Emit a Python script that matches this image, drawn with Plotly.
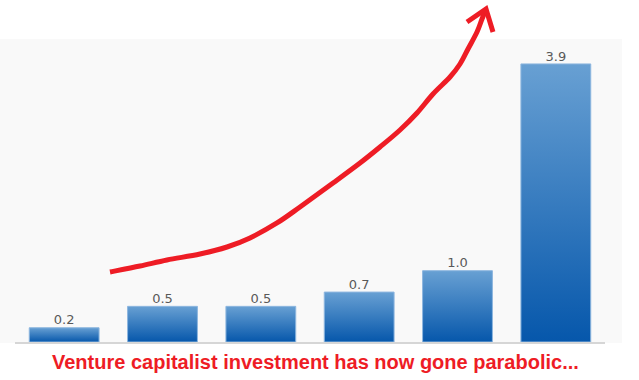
import plotly.graph_objects as go

# Data
values = [0.2, 0.5, 0.5, 0.7, 1.0, 3.9]
labels = ["0.2", "0.5", "0.5", "0.7", "1.0", "3.9"]
title_text = "Venture capitalist investment has now gone parabolic..."

# Hand-drawn arrow path (pixel coordinates of the annotation, not data)
arrow_px = [(110, 272), (140, 266), (167, 260), (200, 254), (227, 247), (250, 238),
            (277, 223), (300, 207), (333, 183), (360, 163), (380, 147), (400, 130),
            (417, 113), (433, 94), (450, 77), (460, 64), (468, 49), (477, 32),
            (482, 19), (486, 9)]
head_left = (467, 22)
head_right = (493, 32)

W, H = 639, 380
BAR_W = 0.71

fig = go.Figure()

for i, v in enumerate(values):
    x0, x1 = i - BAR_W / 2, i + BAR_W / 2
    fig.add_trace(go.Scatter(
        x=[x0, x1, x1, x0, x0], y=[0, 0, v, v, 0],
        mode="lines", fill="toself",
        line=dict(color="#8db6df", width=1),
        fillgradient=dict(type="vertical",
                          colorscale=[[0, "#0657ab"], [1, "#68a0d3"]]),
        hoverinfo="skip", showlegend=False,
    ))

fig.add_trace(go.Scatter(
    x=list(range(len(values))), y=values, mode="text", text=labels,
    textposition="top center",
    textfont=dict(family="DejaVu Sans", size=13, color="#595959"),
    showlegend=False, hoverinfo="skip",
))


def px(p):
    return p[0] / W, 1 - p[1] / H


def smooth_path(pts):
    # Catmull-Rom to cubic Bezier in paper coords
    P = [px(p) for p in pts]
    d = f"M {P[0][0]:.5f},{P[0][1]:.5f}"
    for k in range(len(P) - 1):
        p0 = P[k - 1] if k > 0 else P[k]
        p1, p2 = P[k], P[k + 1]
        p3 = P[k + 2] if k + 2 < len(P) else P[k + 1]
        c1 = (p1[0] + (p2[0] - p0[0]) / 6, p1[1] + (p2[1] - p0[1]) / 6)
        c2 = (p2[0] - (p3[0] - p1[0]) / 6, p2[1] - (p3[1] - p1[1]) / 6)
        d += f" C {c1[0]:.5f},{c1[1]:.5f} {c2[0]:.5f},{c2[1]:.5f} {p2[0]:.5f},{p2[1]:.5f}"
    return d


path = smooth_path(arrow_px)
tip = arrow_px[-1]
head = (f"M {px(head_left)[0]:.5f},{px(head_left)[1]:.5f} L {px(tip)[0]:.5f},{px(tip)[1]:.5f}"
        f" L {px(head_right)[0]:.5f},{px(head_right)[1]:.5f}")

fig.update_layout(
    width=W, height=H,
    margin=dict(l=0, r=0, t=0, b=0),
    paper_bgcolor="white", plot_bgcolor="rgba(0,0,0,0)",
    xaxis=dict(domain=[15 / W, 605 / W], range=[-0.5, len(values) - 0.5],
               showgrid=False, zeroline=False, showticklabels=False, ticks="",
               showline=True, linecolor="#d6d6d6", linewidth=2, fixedrange=True),
    yaxis=dict(domain=[(H - 342) / H, (H - 39) / H], range=[0, 303 / 71.3],
               showgrid=False, zeroline=False, showticklabels=False, ticks="",
               showline=False, fixedrange=True),
    shapes=[
        dict(type="rect", xref="paper", yref="paper", x0=0, x1=622 / W,
             y0=(H - 343) / H, y1=(H - 39) / H, fillcolor="#f9f9f9",
             line=dict(width=0), layer="below"),
        dict(type="path", xref="paper", yref="paper", path=path,
             line=dict(color="#ee1c25", width=5), layer="above"),
        dict(type="path", xref="paper", yref="paper", path=head,
             line=dict(color="#ee1c25", width=5), layer="above"),
    ],
    annotations=[
        dict(text=f"<b>{title_text}</b>", xref="paper", yref="paper",
             x=315 / W, y=1 - 362 / H, xanchor="center", yanchor="middle",
             showarrow=False,
             font=dict(family="Liberation Sans, Arial", size=20, color="#ee1c25")),
    ],
)

fig.write_html("out.html")
